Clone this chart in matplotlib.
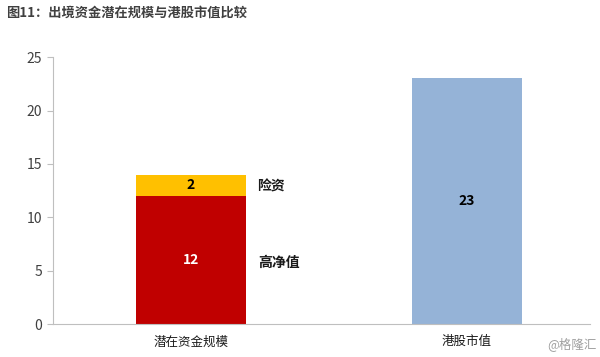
import matplotlib.pyplot as plt

plt.rcParams['font.family'] = ['Noto Sans CJK SC', 'DejaVu Sans']

# Data
categories = ['潜在资金规模', '港股市值']
high_net_worth = [12, 0]
insurance = [2, 0]
hk_market_cap = [0, 23]

fig = plt.figure(figsize=(6, 3.57), dpi=100)
ax = fig.add_axes([0.088, 0.092, 0.895, 0.748])

x = [0, 1]
w = 0.4
ax.bar(x[0], high_net_worth[0], width=w, color='#C00000')
ax.bar(x[0], insurance[0], width=w, bottom=high_net_worth[0], color='#FFC000')
ax.bar(x[1], hk_market_cap[1], width=w, color='#95B3D7')

# value labels
ax.text(x[0], high_net_worth[0] / 2, str(high_net_worth[0]), ha='center', va='center',
        color='white', fontsize=10, fontweight='bold')
ax.text(x[0], high_net_worth[0] + insurance[0] / 2, str(insurance[0]), ha='center', va='center',
        color='black', fontsize=10, fontweight='bold')
ax.text(x[1], hk_market_cap[1] / 2, str(hk_market_cap[1]), ha='center', va='center',
        color='black', fontsize=10, fontweight='bold')

# series names beside the stacked bar
ax.text(x[0] + w / 2 + 0.04, high_net_worth[0] + insurance[0] / 2 - 0.1, '险资',
        ha='left', va='center', fontsize=10, fontweight='bold', color='#1a1a1a')
ax.text(x[0] + w / 2 + 0.045, high_net_worth[0] / 2 - 0.3, '高净值',
        ha='left', va='center', fontsize=10, fontweight='bold', color='#1a1a1a')

ax.set_xlim(-0.5, 1.446)
ax.set_ylim(0, 25)
ax.set_yticks([0, 5, 10, 15, 20, 25])
ax.set_xticks(x)
ax.set_xticklabels(categories, fontsize=9, color='#1a1a1a')
ax.tick_params(axis='y', labelsize=10, labelcolor='#404040', color='#BFBFBF', length=4)
ax.tick_params(axis='x', length=0, pad=8)

for s in ['top', 'right']:
    ax.spines[s].set_visible(False)
ax.spines['left'].set_color('#BFBFBF')
ax.spines['bottom'].set_color('#BFBFBF')

fig.text(0.01, 0.965, '图11：出境资金潜在规模与港股市值比较', fontsize=9.5, fontweight='bold',
         color='#404040', ha='left', va='center')
fig.text(0.995, 0.035, '@格隆汇', fontsize=9, color='#a0a0a0', ha='right', va='center')

fig.savefig('out.png')
